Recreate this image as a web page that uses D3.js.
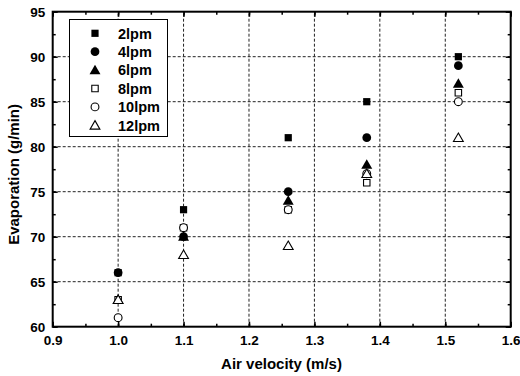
<!DOCTYPE html>
<html>
<head>
<meta charset="utf-8">
<script src="https://cdn.jsdelivr.net/npm/d3@7"></script>
<style>
  html, body { margin: 0; padding: 0; background: #fff; }
  svg { display: block; font-family: Arial, "Liberation Sans", sans-serif; font-weight: bold; }
</style>
</head>
<body>
<svg id="chart" width="520" height="376"></svg>
<script>
// Air velocity (m/s) at each measurement
const velocity = [1.0, 1.1, 1.26, 1.38, 1.52];

// Evaporation (g/min) for each flow rate
const lpm2  = [66, 73, 81, 85, 90];
const lpm4  = [66, 70, 75, 81, 89];
const lpm6  = [63, 70, 74, 78, 87];
const lpm8  = [63, 71, 73, 76, 86];
const lpm10 = [61, 71, 73, 77, 85];
const lpm12 = [63, 68, 69, 77, 81];

const seriesNames = ["2lpm", "4lpm", "6lpm", "8lpm", "10lpm", "12lpm"];
const seriesValues = [lpm2, lpm4, lpm6, lpm8, lpm10, lpm12];
const seriesShapes = ["square", "circle", "triangle", "square", "circle", "triangle"];
const seriesFilled = [true, true, true, false, false, false];

const xTicks = [0.9, 1.0, 1.1, 1.2, 1.3, 1.4, 1.5, 1.6];
const yTicks = [60, 65, 70, 75, 80, 85, 90, 95];

const svg = d3.select("#chart");
const margin = { left: 52.7, right: 9.3, top: 11.7, bottom: 49.3 };
const W = 520, H = 376;
const x = d3.scaleLinear().domain([0.9, 1.6]).range([margin.left, W - margin.right]);
const y = d3.scaleLinear().domain([60, 95]).range([H - margin.bottom, margin.top]);

// dashed grid
const grid = svg.append("g");
grid.selectAll("line.gx").data(xTicks.slice(1, -1)).join("line")
  .attr("x1", d => x(d)).attr("x2", d => x(d))
  .attr("y1", y(60)).attr("y2", y(95))
  .attr("stroke", "#222").attr("stroke-width", 1).attr("stroke-dasharray", "3,2");
grid.selectAll("line.gy").data(yTicks.slice(1, -1)).join("line")
  .attr("y1", d => y(d)).attr("y2", d => y(d))
  .attr("x1", x(0.9)).attr("x2", x(1.6))
  .attr("stroke", "#222").attr("stroke-width", 1).attr("stroke-dasharray", "3,2");

// axes with inward ticks
const fmt = d3.format(".1f");
const xMinor = d3.range(0.9, 1.6001, 0.05);
const yMinor = d3.range(60, 95.001, 2.5);
const tickFont = 13.5;

function styleAxis(g) {
  g.select(".domain").remove();
  g.selectAll(".tick line").attr("stroke", "#000").attr("stroke-width", 1.5);
}
function styleLabels(g) {
  g.selectAll("text").attr("font-size", tickFont).attr("font-weight", "bold").attr("fill", "#000");
}

svg.append("g").attr("transform", `translate(0,${y(60)})`)
  .call(d3.axisBottom(x).tickValues(xMinor).tickSize(-3).tickFormat(""))
  .call(styleAxis);
svg.append("g").attr("transform", `translate(0,${y(60)})`)
  .call(d3.axisBottom(x).tickValues(xTicks).tickSize(-5).tickPadding(8.4).tickFormat(fmt))
  .call(styleAxis).call(styleLabels);
svg.append("g").attr("transform", `translate(0,${y(95)})`)
  .call(d3.axisTop(x).tickValues(xMinor).tickSize(-3).tickFormat(""))
  .call(styleAxis);
svg.append("g").attr("transform", `translate(0,${y(95)})`)
  .call(d3.axisTop(x).tickValues(xTicks).tickSize(-5).tickFormat(""))
  .call(styleAxis);

svg.append("g").attr("transform", `translate(${x(0.9)},0)`)
  .call(d3.axisLeft(y).tickValues(yMinor).tickSize(-3).tickFormat(""))
  .call(styleAxis);
svg.append("g").attr("transform", `translate(${x(0.9)},0)`)
  .call(d3.axisLeft(y).tickValues(yTicks).tickSize(-5).tickPadding(7.4).tickFormat(d3.format("d")))
  .call(styleAxis).call(styleLabels);
svg.append("g").attr("transform", `translate(${x(1.6)},0)`)
  .call(d3.axisRight(y).tickValues(yMinor).tickSize(-3).tickFormat(""))
  .call(styleAxis);
svg.append("g").attr("transform", `translate(${x(1.6)},0)`)
  .call(d3.axisRight(y).tickValues(yTicks).tickSize(-5).tickFormat(""))
  .call(styleAxis);

// frame
svg.append("rect")
  .attr("x", x(0.9)).attr("y", y(95))
  .attr("width", x(1.6) - x(0.9)).attr("height", y(60) - y(95))
  .attr("fill", "none").attr("stroke", "#000").attr("stroke-width", 2);

// markers
const symType = { square: d3.symbolSquare, circle: d3.symbolCircle, triangle: d3.symbolTriangle };
const symSize = { square: 52, circle: 60, triangle: 52 };
function marker(sel, shape, filled) {
  sel.attr("d", d3.symbol().type(symType[shape]).size(symSize[shape] * (filled ? 1 : 0.8))())
    .attr("fill", filled ? "#000" : "#fff")
    .attr("stroke", "#000")
    .attr("stroke-width", filled ? 0 : 1.1);
}

seriesValues.forEach((vals, i) => {
  svg.append("g").selectAll("path").data(vals).join("path")
    .attr("transform", (d, j) => `translate(${x(velocity[j])},${y(d) + (seriesShapes[i] === "triangle" ? 1 : 0)})`)
    .call(marker, seriesShapes[i], seriesFilled[i]);
});

// legend
const lg = svg.append("g");
lg.append("rect").attr("x", 69.5).attr("y", 19.5).attr("width", 98).attr("height", 117)
  .attr("fill", "#fff").attr("stroke", "#000").attr("stroke-width", 1);
seriesNames.forEach((name, i) => {
  const cy = 33.3 + i * 18.4;
  lg.append("path").attr("transform", `translate(95,${cy + (seriesShapes[i] === "triangle" ? 1 : 0)})`)
    .call(marker, seriesShapes[i], seriesFilled[i]);
  lg.append("text").attr("x", 118).attr("y", cy).attr("dy", "0.36em")
    .attr("font-size", 14.5).attr("font-weight", "bold").text(name);
});

// axis titles
svg.append("text").attr("x", 281.5).attr("y", 369.3)
  .attr("text-anchor", "middle").attr("font-size", 15).attr("font-weight", "bold")
  .text("Air velocity (m/s)");
svg.append("text").attr("transform", `translate(19.3,174.4) rotate(-90)`)
  .attr("text-anchor", "middle").attr("font-size", 15).attr("font-weight", "bold")
  .text("Evaporation (g/min)");
</script>
</body>
</html>
